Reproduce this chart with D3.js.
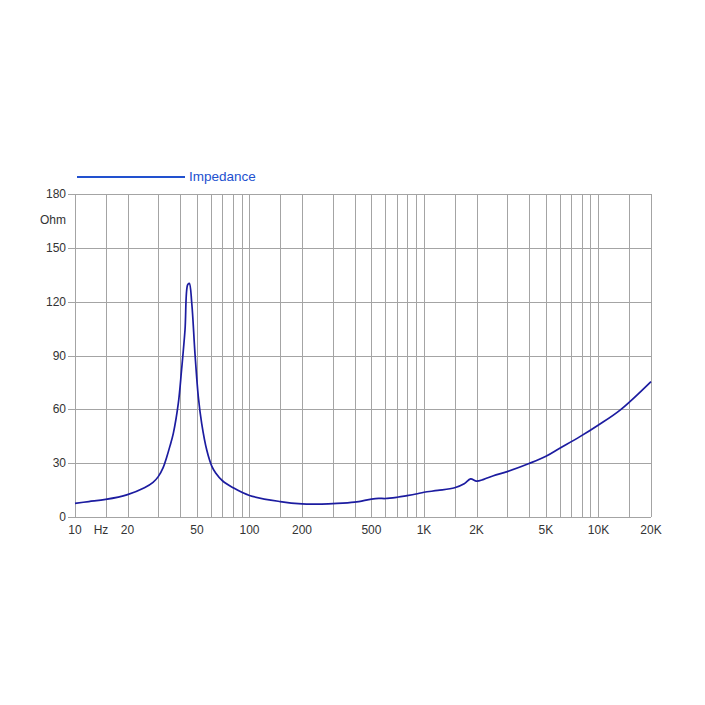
<!DOCTYPE html>
<meta charset="utf-8">
<script src="https://d3js.org/d3.v7.min.js"></script>
<style>
  body { margin: 0; background: #fff; font-family: "Liberation Sans", Arial, sans-serif; }
</style>
<body>
<div id="chart"></div>
<script>
// impedance curve
const freq = [10, 12, 15, 20, 25, 28, 30, 32, 33.5, 35, 36.6, 39.1, 40.8, 42.7, 44.2, 45.2, 46.7, 48.7, 50.9, 53.2, 56.9, 60.7, 64, 70, 80, 100, 150, 200, 250, 300, 400, 500, 550, 600, 700, 800, 900, 1000, 1200, 1500, 1700, 1850, 2000, 2200, 2500, 3000, 4000, 5000, 6000, 7830, 10000, 13300, 20000];
const ohm  = [7.6, 8.6, 9.8, 12.5, 16.3, 19.3, 22.5, 27.5, 33.2, 39.5, 46.6, 63.4, 81.9, 104.2, 129.3, 130.2, 119, 91.2, 67, 52.2, 37.3, 28.5, 24.5, 20.2, 16.5, 12, 8.6, 7.3, 7.2, 7.5, 8.3, 10, 10.4, 10.3, 11, 11.9, 12.8, 13.8, 14.8, 16.3, 18.5, 21.2, 20, 21, 23, 25.3, 29.8, 33.8, 38.3, 44.8, 51.3, 59.6, 75.5];

const gridFreqs = [10, 15, 20, 30, 40, 50, 60, 70, 80, 90, 100, 150, 200, 300, 400, 500, 600, 700, 800, 900, 1000, 1500, 2000, 3000, 4000, 5000, 6000, 7000, 8000, 9000, 10000, 15000, 20000];
const xLabelFreqs = [10, 20, 50, 100, 200, 500, 1000, 2000, 5000, 10000, 20000];
const xLabels = ["10", "20", "50", "100", "200", "500", "1K", "2K", "5K", "10K", "20K"];
const yTicks = [0, 30, 60, 90, 120, 150, 180];

const margin = {top: 194, right: 54, bottom: 188, left: 75},
    width = 705 - margin.left - margin.right,
    height = 705 - margin.top - margin.bottom;

const svg = d3.select("#chart")
  .append("svg")
    .attr("width", 705)
    .attr("height", 705)
  .append("g")
    .attr("transform", `translate(${margin.left}, ${margin.top})`);

const x = d3.scaleLog()
  .domain([10, 20000])
  .range([0, width]);

const y = d3.scaleLinear()
  .domain([0, 180])
  .range([height, 0]);

// vertical grid
svg.append("g")
  .selectAll("line")
  .data(gridFreqs)
  .join("line")
    .attr("x1", d => Math.round(x(d)) + 0.5)
    .attr("x2", d => Math.round(x(d)) + 0.5)
    .attr("y1", 0)
    .attr("y2", height)
    .attr("stroke", "#a4a4a4")
    .attr("stroke-width", 1);

// horizontal grid
svg.append("g")
  .selectAll("line")
  .data(yTicks)
  .join("line")
    .attr("x1", -7)
    .attr("x2", width)
    .attr("y1", d => Math.round(y(d)) + 0.5)
    .attr("y2", d => Math.round(y(d)) + 0.5)
    .attr("stroke", "#a4a4a4")
    .attr("stroke-width", 1);

// y labels
svg.append("g")
  .selectAll("text")
  .data(yTicks)
  .join("text")
    .attr("x", -9)
    .attr("y", d => y(d) + 4)
    .attr("text-anchor", "end")
    .attr("font-size", 12)
    .attr("fill", "#333")
    .text(d => d);

svg.append("text")
  .attr("x", -9)
  .attr("y", 30)
  .attr("text-anchor", "end")
  .attr("font-size", 12)
  .attr("fill", "#333")
  .text("Ohm");

// x labels
svg.append("g")
  .selectAll("text")
  .data(xLabelFreqs)
  .join("text")
    .attr("x", d => x(d))
    .attr("y", height + 17)
    .attr("text-anchor", "middle")
    .attr("font-size", 12)
    .attr("fill", "#333")
    .text((d, i) => xLabels[i]);

svg.append("text")
  .attr("x", 26)
  .attr("y", height + 17)
  .attr("text-anchor", "middle")
  .attr("font-size", 12)
  .attr("fill", "#333")
  .text("Hz");

// the curve
const pts = freq.map((f, i) => [f, ohm[i]]);
svg.append("path")
  .datum(pts)
  .attr("fill", "none")
  .attr("stroke", "#1c1ca0")
  .attr("stroke-width", 1.7)
  .attr("d", d3.line()
    .curve(d3.curveCatmullRom.alpha(0.5))
    .x(d => x(d[0]))
    .y(d => y(d[1])));

// legend
svg.append("line")
  .attr("x1", 2)
  .attr("x2", 110)
  .attr("y1", -17)
  .attr("y2", -17)
  .attr("stroke", "#2251cf")
  .attr("stroke-width", 2);

svg.append("text")
  .attr("x", 114)
  .attr("y", -13)
  .attr("font-size", 13.5)
  .attr("fill", "#2251cf")
  .text("Impedance");
</script>
</body>
